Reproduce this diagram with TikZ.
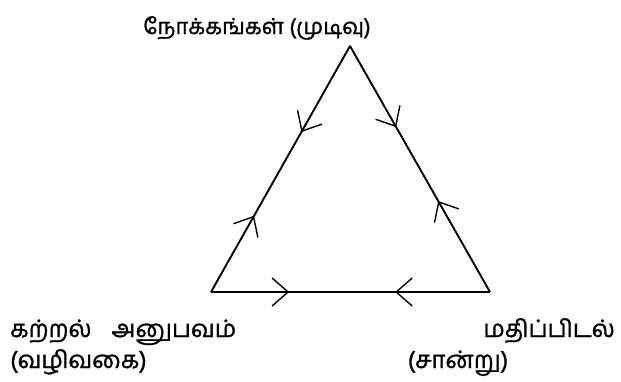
\documentclass[tikz,border=0pt]{standalone}
\usepackage{fontspec}
\newfontfamily\tamil[Script=Tamil,FakeBold=1.2]{Hind Madurai}
\usetikzlibrary{arrows.meta,decorations.markings}
\tikzset{
  edge/.style={line width=1.6pt, black},
  barbtip/.tip={Straight Barb[length=16pt,width=28pt,line width=1.4pt]},
  midarrow/.style={postaction={decorate},decoration={markings,mark=at position #1 with {\arrow{barbtip}}}},
  lbl/.style={font=\tamil\fontsize{24}{30}\selectfont, inner sep=0pt},
  toplbl/.style={font=\tamil\fontsize{22}{28}\selectfont, inner sep=0pt}
}
\begin{document}
\begin{tikzpicture}[x=1pt,y=-1pt]
\useasboundingbox (0,0) rectangle (621,381);
\coordinate (A) at (350,46);
\coordinate (L) at (211,292);
\coordinate (R) at (490,292);
\draw[edge, midarrow=0.35] (A) -- (L);
\draw[edge, midarrow=0.31] (L) -- (A);
\draw[edge, midarrow=0.33] (A) -- (R);
\draw[edge, midarrow=0.37] (R) -- (A);
\draw[edge, midarrow=0.28] (L) -- (R);
\draw[edge, midarrow=0.34] (R) -- (L);
\node[toplbl, anchor=base] (top) at (257,34) {நோக்கங்கள் (முடிவு)};
\node[lbl, anchor=base west] (left1) at (10,337) {கற்றல்\hspace{20pt}அனுபவம்};
\node[lbl, anchor=base west] (left2) at (10,368) {(வழிவகை)};
\node[lbl, anchor=base east] (right1) at (615,337) {மதிப்பிடல்};
\node[lbl, anchor=base] (right2) at (458,368) {(சான்று)};
\end{tikzpicture}
\end{document}
